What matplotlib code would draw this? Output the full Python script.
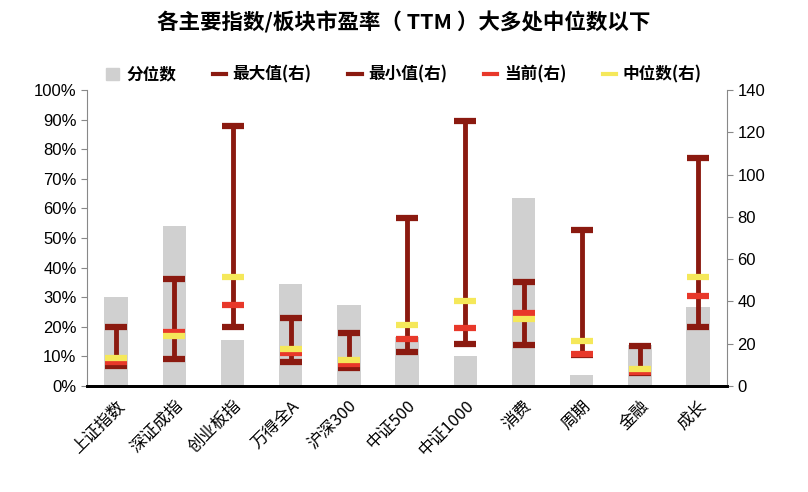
import matplotlib.pyplot as plt
import numpy as np
from matplotlib.lines import Line2D
from matplotlib.patches import Patch

plt.rcParams['font.family'] = ['Liberation Sans', 'Noto Sans CJK SC', 'DejaVu Sans']

categories = ['上证指数', '深证成指', '创业板指', '万得全A', '沪深300', '中证500',
              '中证1000', '消费', '周期', '金融', '成长']
percentile = [0.30, 0.54, 0.155, 0.345, 0.275, 0.167, 0.102, 0.635, 0.037, 0.139, 0.267]
pe_max = [28.0, 50.8, 123.1, 32.3, 25.2, 79.6, 125.5, 49.3, 73.9, 19.1, 108.0]
pe_min = [9.3, 12.9, 28.1, 11.5, 8.4, 16.2, 20.0, 19.5, 14.6, 6.0, 28.1]
pe_now = [11.2, 25.4, 38.5, 15.8, 10.4, 22.2, 27.6, 34.4, 15.0, 6.5, 42.7]
pe_median = [13.4, 23.8, 51.7, 17.7, 12.5, 28.9, 40.3, 31.8, 21.3, 7.9, 51.7]

c_bar = '#d0d0d0'
c_range = '#8b1a10'
c_now = '#e8382a'
c_med = '#f5e85a'

fig = plt.figure(figsize=(8.08, 4.92), dpi=100)
ax = fig.add_axes([0.1077, 0.2154, 0.7923, 0.6016])
ax2 = ax.twinx()

x = np.arange(len(categories))
ax.bar(x, percentile, width=0.4, color=c_bar, zorder=1)
ax.set_ylim(0, 1)
ax.set_yticks(np.arange(0, 1.01, 0.1))
ax.set_yticklabels([f'{int(round(v * 100))}%' for v in np.arange(0, 1.01, 0.1)], fontsize=12)
ax.set_xlim(-0.5, len(categories) - 0.5)
ax.set_xticks(x)
ax.set_xticklabels(categories, rotation=45, ha='right', rotation_mode='anchor',
                   fontsize=12, family=['Noto Sans CJK SC', 'DejaVu Sans'])
ax.tick_params(axis='x', length=0, pad=8)

ax2.vlines(x, pe_min, pe_max, color=c_range, linewidth=3.5, zorder=2)
cap = dict(marker='_', linestyle='none', markersize=16, markeredgewidth=4.5,
           solid_capstyle='round')
ax2.plot(x, pe_max, color=c_range, zorder=3, **cap)
ax2.plot(x, pe_min, color=c_range, zorder=3, **cap)
ax2.plot(x, pe_now, color=c_now, zorder=4, **cap)
ax2.plot(x, pe_median, color=c_med, zorder=5, **cap)
ax2.set_ylim(0, 140)
ax2.set_yticks(range(0, 141, 20))
ax2.tick_params(axis='y', labelsize=12)

for a in (ax, ax2):
    a.spines['top'].set_visible(False)
    a.spines['left'].set_color('#888888')
    a.spines['right'].set_color('#888888')
    a.spines['bottom'].set_color('black')
    a.spines['bottom'].set_linewidth(2)
    a.tick_params(axis='y', color='#888888', length=4)
ax.spines['right'].set_visible(False)
ax2.spines['left'].set_visible(False)

handles = [
    Patch(color=c_bar, label='分位数'),
    Line2D([], [], color=c_range, linewidth=3, label='最大值(右)'),
    Line2D([], [], color=c_range, linewidth=3, label='最小值(右)'),
    Line2D([], [], color=c_now, linewidth=3, label='当前(右)'),
    Line2D([], [], color=c_med, linewidth=3, label='中位数(右)'),
]
fig.legend(handles=handles, loc='center', bbox_to_anchor=(0.5, 0.848), ncol=5,
           frameon=False, handlelength=0.8, handleheight=0.8, columnspacing=2.2,
           handletextpad=0.4,
           prop={'family': ['Noto Sans CJK SC', 'DejaVu Sans'], 'weight': 'bold', 'size': 12})

fig.text(0.5, 0.955, '各主要指数/板块市盈率（ TTM ）大多处中位数以下', ha='center', va='center',
         fontsize=15.5, fontweight='bold', family=['Noto Sans CJK SC', 'DejaVu Sans'])

fig.savefig('out.png', dpi=100)
